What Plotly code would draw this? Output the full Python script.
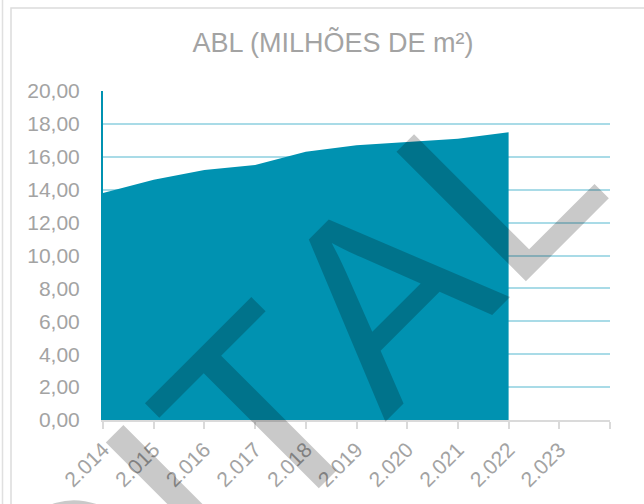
import plotly.graph_objects as go

# Gross leasable area by year (millions of m²)
years = [2014, 2015, 2016, 2017, 2018, 2019, 2020, 2021, 2022, 2023]
abl = [13.8, 14.6, 15.2, 15.5, 16.3, 16.7, 16.9, 17.1, 17.5]
y_ticks = [0, 2, 4, 6, 8, 10, 12, 14, 16, 18, 20]

TEAL = "#0092b1"
GRID = "#a9dbe7"
GREY_TXT = "#a3a3a3"
FONT = "Liberation Sans"

W, H = 644, 504
L, R, T, B = 103, 610, 91, 420   # plot area in pixels


def px_to_paper(px, py):
    return (px - L) / (R - L), (B - py) / (B - T)


x_ticks = years + [years[-1] + 1]
x_labels = [f"{y:,}".replace(",", ".") for y in years] + [""]

fig = go.Figure()
fig.add_trace(go.Scatter(
    x=years[:len(abl)], y=abl,
    mode="lines", line=dict(width=0, color=TEAL),
    fill="tozeroy", fillcolor=TEAL,
    hoverinfo="skip", showlegend=False,
))

# outer frame of the chart area
fx0, fy0 = px_to_paper(11, 8)
fx1, fy1 = px_to_paper(700, 560)
ex, _ = px_to_paper(2.5, 0)
shapes = [
    dict(type="rect", xref="paper", yref="paper", x0=fx0, y0=fy1, x1=fx1, y1=fy0,
         line=dict(color="#dcdcdc", width=1.5), fillcolor="rgba(0,0,0,0)", layer="below"),
    dict(type="line", xref="paper", yref="paper", x0=ex, x1=ex, y0=fy1, y1=px_to_paper(0, -10)[1],
         line=dict(color="#e0e0e0", width=1.5), layer="below"),
]

# diagonal watermark (no pair kerning, plain letter advances)
wx, wy = px_to_paper(184, 493)
annotations = [dict(
    text='<span style="font-kerning:none">DIGITAL</span>',
    xref="paper", yref="paper", x=wx, y=wy,
    xanchor="center", yanchor="middle", showarrow=False, textangle=-45,
    font=dict(family=FONT, size=266, color="rgba(0,0,0,0.21)"),
)]

fig.update_layout(
    width=W, height=H,
    margin=dict(l=L, r=W - R, t=T, b=H - B, pad=0),
    paper_bgcolor="white", plot_bgcolor="white",
    separators=",.",
    font=dict(family=FONT, color=GREY_TXT, size=21),
    title=dict(text="ABL (MILHÕES DE m²)", xref="container", yref="container",
               x=333 / W, y=1 - 43 / H, xanchor="center", yanchor="middle",
               font=dict(family=FONT, size=27, color=GREY_TXT)),
    xaxis=dict(range=[years[0], years[-1] + 1], tickmode="array",
               tickvals=x_ticks, ticktext=x_labels, tickangle=-45,
               showgrid=False, zeroline=False, showline=True,
               linecolor="#dadada", linewidth=2,
               ticks="outside", ticklen=7, tickwidth=2, tickcolor="#dadada",
               tickfont=dict(family=FONT, size=21, color=GREY_TXT)),
    yaxis=dict(range=[0, 20], tickmode="array", tickvals=y_ticks,
               tickformat=".2f", showgrid=True, gridcolor=GRID, gridwidth=2,
               zeroline=False, showline=True, linecolor=TEAL, linewidth=2,
               ticks="", ticklabelstandoff=17,
               tickfont=dict(family=FONT, size=21, color=GREY_TXT)),
    shapes=shapes,
    annotations=annotations,
)

fig.write_html("out.html")
